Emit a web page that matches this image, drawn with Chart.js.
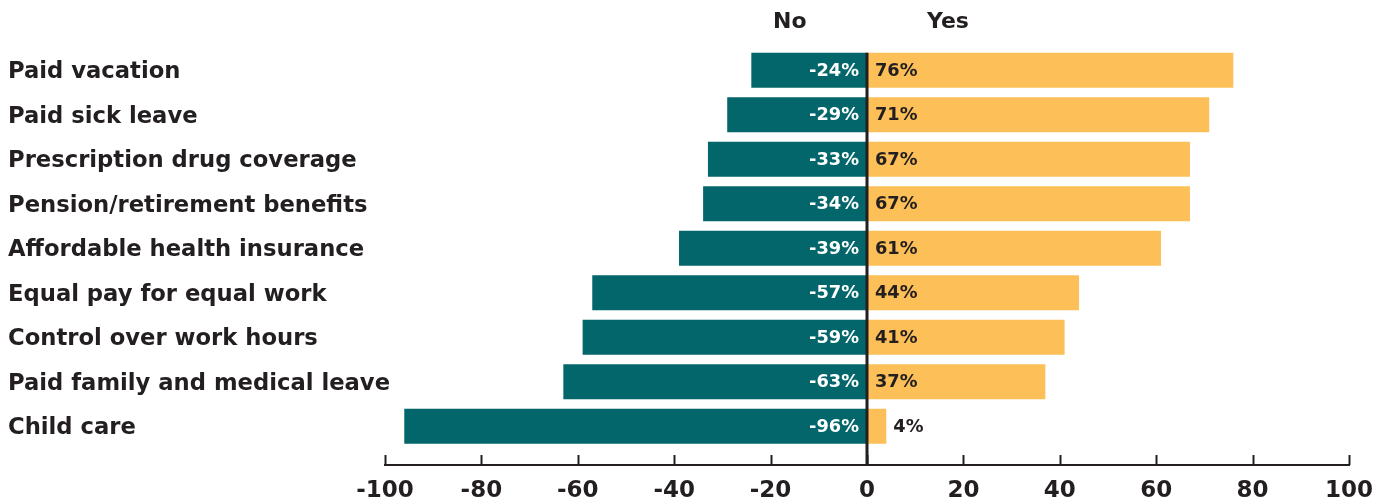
<!DOCTYPE html>
<html>
<head>
<meta charset="utf-8">
<script src="https://cdn.jsdelivr.net/npm/chart.js@4.4.0/dist/chart.umd.min.js"></script>
<style>
  html, body { margin: 0; padding: 0; background: #ffffff; }
  #wrap { width: 1398px; height: 503px; position: relative; }
</style>
</head>
<body>
<div id="wrap"><canvas id="c" width="1398" height="503"></canvas></div>
<script>
// Workplace benefits: share answering "No" (negative) vs "Yes"
const categories = [
  'Paid vacation',
  'Paid sick leave',
  'Prescription drug coverage',
  'Pension/retirement benefits',
  'Affordable health insurance',
  'Equal pay for equal work',
  'Control over work hours',
  'Paid family and medical leave',
  'Child care'
];
const noValues  = [-24, -29, -33, -34, -39, -57, -59, -63, -96];
const yesValues = [76, 71, 67, 67, 61, 44, 41, 37, 4];
const xTicks = [-100, -80, -60, -40, -20, 0, 20, 40, 60, 80, 100];
const seriesNames = ['No', 'Yes'];

const TEXT = '#231f20';
const TEAL = '#03666a';
const GOLD = '#fdbf57';
const FONT = '"DejaVu Sans", Verdana, sans-serif';

// pick a font size so that a sample string takes a given width
function fitSize(sample, width) {
  const m = document.createElement('canvas').getContext('2d');
  m.font = 'bold 100px ' + FONT;
  return Math.round(100 * width / m.measureText(sample).width * 10) / 10;
}
const catSize = fitSize('Paid family and medical leave', 383);
const tickSize = fitSize('100', 48);
const valSize = fitSize('-24%', 50);
const headSize = fitSize('Yes', 42);

// Bottom axis line with upward tick marks, and the zero divider
const axisPlugin = {
  id: 'axisMarks',
  afterDatasetsDraw(chart) {
    const { ctx, chartArea, scales } = chart;
    const x = scales.x;
    const axisY = chartArea.bottom + 16.5;
    ctx.save();
    ctx.strokeStyle = TEXT;
    ctx.lineWidth = 2;
    ctx.beginPath();
    ctx.moveTo(x.getPixelForValue(-100) - 1, axisY);
    ctx.lineTo(x.getPixelForValue(100) + 1, axisY);
    ctx.stroke();
    xTicks.forEach(v => {
      const px = Math.round(x.getPixelForValue(v)) + 0.5;
      ctx.beginPath();
      ctx.moveTo(px, axisY);
      ctx.lineTo(px, axisY - 10);
      ctx.stroke();
    });
    // zero divider
    const meta = chart.getDatasetMeta(0);
    const firstBar = meta.data[0];
    const top = firstBar.y - firstBar.height / 2;
    ctx.lineWidth = 3;
    const zx = x.getPixelForValue(0);
    ctx.beginPath();
    ctx.moveTo(zx, top);
    ctx.lineTo(zx, axisY);
    ctx.stroke();
    ctx.restore();
  }
};

// Category names, value labels and the No / Yes column heads
const labelPlugin = {
  id: 'valueLabels',
  afterDraw(chart) {
    const { ctx, scales } = chart;
    const x = scales.x, y = scales.y;
    const zx = x.getPixelForValue(0);
    ctx.save();
    ctx.textBaseline = 'middle';
    ctx.font = 'bold ' + catSize + 'px ' + FONT;
    ctx.fillStyle = TEXT;
    ctx.textAlign = 'left';
    categories.forEach((c, i) => {
      ctx.fillText(c, 8, y.getPixelForValue(i) + 2);
    });
    ctx.font = 'bold ' + valSize + 'px ' + FONT;
    chart.getDatasetMeta(0).data.forEach((bar, i) => {
      ctx.fillStyle = '#ffffff';
      ctx.textAlign = 'right';
      ctx.fillText(noValues[i] + '%', zx - 8, bar.y + 1);
    });
    chart.getDatasetMeta(1).data.forEach((bar, i) => {
      const txt = yesValues[i] + '%';
      const w = ctx.measureText(txt).width;
      ctx.fillStyle = TEXT;
      ctx.textAlign = 'left';
      const inside = (bar.x - zx) > w + 16;
      ctx.fillText(txt, inside ? zx + 8 : bar.x + 7, bar.y + 1);
    });
    ctx.font = 'bold ' + headSize + 'px ' + FONT;
    ctx.textAlign = 'center';
    ctx.fillStyle = TEXT;
    ctx.fillText(seriesNames[0], x.getPixelForValue(-16), 22);
    ctx.fillText(seriesNames[1], x.getPixelForValue(16.8), 22);
    ctx.restore();
  }
};

new Chart(document.getElementById('c'), {
  type: 'bar',
  data: {
    labels: categories,
    datasets: [
      { label: seriesNames[0], data: noValues, backgroundColor: TEAL,
        barPercentage: 0.79, categoryPercentage: 1.0 },
      { label: seriesNames[1], data: yesValues, backgroundColor: GOLD,
        barPercentage: 0.79, categoryPercentage: 1.0 }
    ]
  },
  options: {
    indexAxis: 'y',
    responsive: false,
    animation: false,
    layout: { padding: { top: 48, left: 8, right: 49, bottom: 0 } },
    plugins: { legend: { display: false }, tooltip: { enabled: false } },
    scales: {
      x: {
        stacked: true,
        min: -100, max: 100,
        afterBuildTicks: s => { s.ticks = xTicks.map(v => ({ value: v })); },
        afterFit: s => { s.height = 54.5; s.paddingLeft = 0; s.paddingRight = 0; },
        grid: { display: false, drawTicks: false },
        border: { display: false },
        ticks: { color: TEXT, font: { family: FONT, size: tickSize, weight: 'bold' }, padding: 29 }
      },
      y: {
        stacked: true,
        afterFit: s => { s.width = 377; },
        grid: { display: false, drawTicks: false },
        border: { display: false },
        ticks: { display: false }
      }
    }
  },
  plugins: [axisPlugin, labelPlugin]
});
</script>
</body>
</html>
